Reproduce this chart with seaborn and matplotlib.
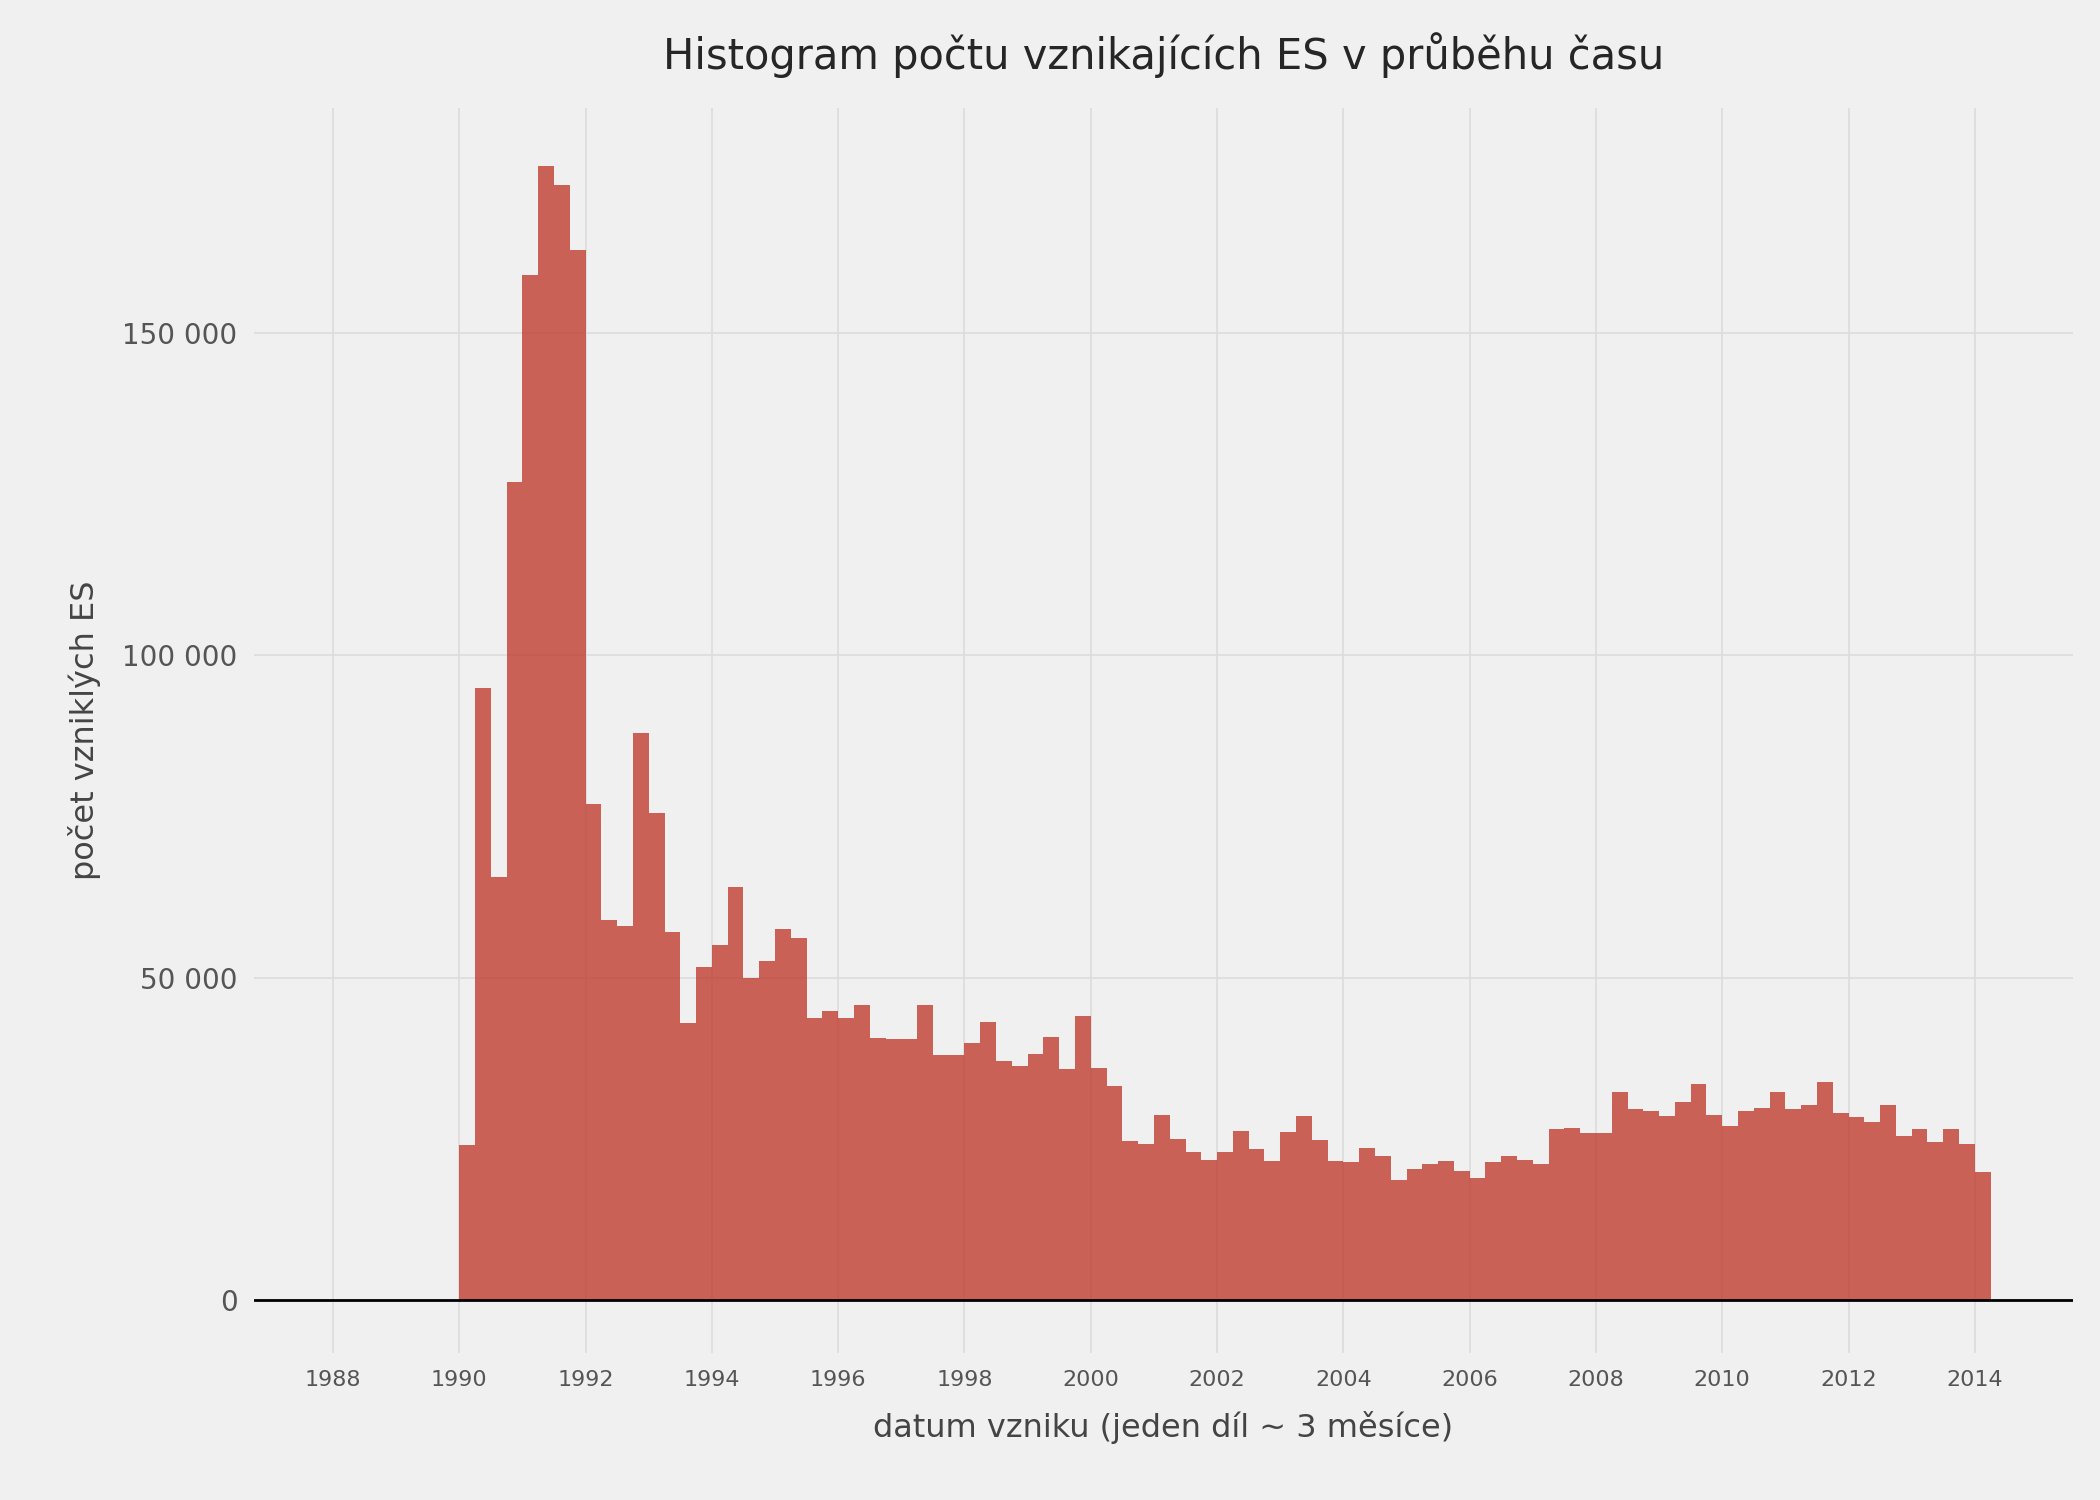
import numpy as np
import seaborn as sns
import matplotlib.pyplot as plt

# quarterly bins, start year of each bin
bin_starts = [1990 + 0.25 * i for i in range(97)]
counts = [24000, 95000, 65600, 127000, 159000, 176000, 173000, 163000,
          77000, 59000, 58000, 88000, 75600, 57000, 43000, 51700,
          55000, 64000, 50000, 52500, 57500, 56200, 43700, 44800,
          43700, 45800, 40600, 40400, 40400, 45800, 38000, 38000,
          39800, 43100, 37000, 36200, 38100, 40800, 35800, 44000,
          36000, 33100, 24600, 24200, 28700, 25000, 22900, 21700,
          22900, 26200, 23300, 21500, 26000, 28500, 24800, 21500,
          21300, 23500, 22300, 18500, 20200, 21000, 21500, 20000,
          18800, 21300, 22300, 21700, 21000, 26500, 26700, 25800,
          25800, 32300, 29600, 29200, 28500, 30600, 33500, 28700,
          26900, 29200, 29800, 32300, 29600, 30200, 33800, 29000,
          28300, 27500, 30200, 25400, 26500, 24400, 26500, 24200,
          19800]
year_ticks = list(range(1988, 2015, 2))
y_ticks = [0, 50000, 100000, 150000]

bg = '#f0f0f0'
sns.set_style('whitegrid', {'axes.facecolor': bg, 'figure.facecolor': bg,
                            'grid.color': '#dcdcdc', 'axes.edgecolor': bg})
fig, ax = plt.subplots(figsize=(21, 15), dpi=100)
fig.patch.set_facecolor(bg)

edges = [1990 + 0.25 * i for i in range(98)]
sns.histplot(x=bin_starts, weights=counts, bins=edges, color='#c0392b',
             alpha=0.78, edgecolor='none', linewidth=0, ax=ax)
ax.axhline(0, color='black', lw=2)

ax.set_xlim(1986.75, 2015.55)
ax.set_ylim(-8300, 185000)
ax.set_xticks(year_ticks)
ax.set_xticklabels([str(y) for y in year_ticks], fontsize=16, color='#555555')
ax.set_yticks(y_ticks)
ax.set_yticklabels([f'{v:,}'.replace(',', ' ') for v in y_ticks], fontsize=20, color='#555555')
ax.tick_params(length=0, pad=12)
ax.grid(True, color='#dcdcdc', lw=1.2)
for s in ax.spines.values():
    s.set_visible(False)

ax.set_title('Histogram počtu vznikajících ES v průběhu času', fontsize=30, pad=28)
ax.set_xlabel('datum vzniku (jeden díl ~ 3 měsíce)', fontsize=23, color='#444444', labelpad=15)
ax.set_ylabel('počet vzniklých ES', fontsize=23, color='#444444', labelpad=15)

plt.subplots_adjust(left=0.121, right=0.987, top=0.928, bottom=0.098)
fig.savefig('out.png', dpi=100, facecolor=bg)
